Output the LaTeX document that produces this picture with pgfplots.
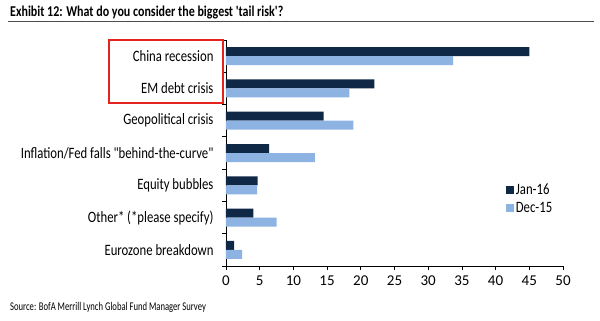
\documentclass[border=0pt]{standalone}
\usepackage{fontspec}
\setmainfont{Carlito}
\newfontfamily\labelfont{Carlito}[FakeStretch=0.805]
\newfontfamily\titlefont{Carlito}[FakeStretch=0.8]
\newfontfamily\srcfont{Carlito}[FakeStretch=0.73]
\usepackage{graphicx}
\usepackage{pgfplots}
\pgfplotsset{compat=1.18}
\definecolor{navy}{HTML}{0E2846}
\definecolor{lblue}{HTML}{8DB3E2}
\definecolor{redbox}{HTML}{E3231E}
\begin{document}
\begin{tikzpicture}[x=1pt,y=1pt]
\useasboundingbox (0,0) rectangle (600,-321);
\node[anchor=base west, inner sep=0] at (10,-17) {\titlefont\bfseries\fontsize{15}{15}\selectfont Exhibit 12: What do you consider the biggest 'tail risk'?};
\draw[line width=0.9pt, color=black!70] (8,-21) -- (594,-21);
\begin{axis}[
  at={(226pt,-266pt)}, anchor=south west,
  scale only axis, width=337pt, height=226pt,
  xbar, bar width=9pt,
  xmin=0, xmax=50, xtick={0,5,...,50},
  ymin=-0.5, ymax=6.5,
  ytick={0,...,6},
  minor ytick={-0.5,0.5,...,6.5},
  yticklabels={Eurozone breakdown, Other* (*please specify), Equity bubbles, Inflation/Fed falls "behind-the-curve", Geopolitical crisis, EM debt crisis, China recession},
  axis x line*=bottom, axis y line*=left,
  axis line style={line width=0.9pt, black},
  tick align=outside,
  major tick length=4pt, minor tick length=4pt,
  major y tick style={draw=none},
  minor y tick style={draw=black, line width=0.8pt},
  x tick style={draw=black, line width=0.8pt},
  /pgf/number format/assume math mode=true,
  x tick label style={font=\fontsize{15}{15}\selectfont, yshift=-2pt},
  y tick label style={font=\labelfont\fontsize{15.8}{16}\selectfont},
  yticklabel style={xshift=-5pt},
  legend style={draw=none, fill=none, at={(0.83,0.375)}, anchor=north west,
    font=\labelfont\fontsize{15.8}{16}\selectfont, row sep=3pt, inner sep=0pt},
  legend cell align=left,
  legend image code/.code={\fill[#1] (0pt,-4pt) rectangle (8pt,4pt);},
  clip=false,
]
\addplot[fill=navy, draw=none, bar shift=4.5pt] coordinates {
  (1.2,0) (4.05,1) (4.7,2) (6.4,3) (14.5,4) (22.0,5) (45.0,6)};
\addplot[fill=lblue, draw=none, bar shift=-4.5pt] coordinates {
  (2.4,0) (7.5,1) (4.6,2) (13.2,3) (18.9,4) (18.3,5) (33.7,6)};
\legend{Jan-16, Dec-15}
\end{axis}
\draw[redbox, line width=2pt] (109,-40) rectangle (222.5,-103.3);
\node[anchor=base west, inner sep=0] at (10,-310) {\srcfont\fontsize{11.8}{12}\selectfont Source: BofA Merrill Lynch Global Fund Manager Survey};
\end{tikzpicture}
\end{document}
